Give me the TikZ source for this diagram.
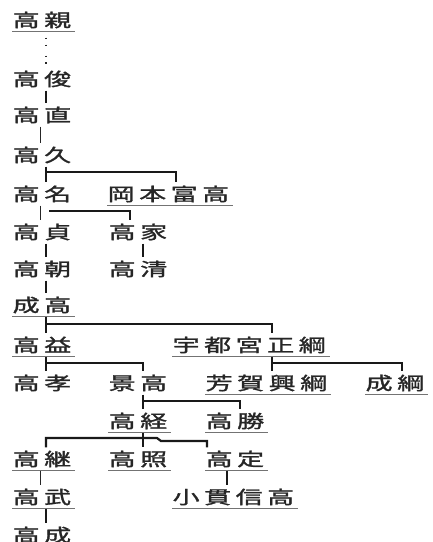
\documentclass[tikz,border=0pt]{standalone}
\usepackage{fontspec}
\usepackage{graphicx}
\newfontfamily\jp[FakeBold=1.2]{Noto Sans CJK JP}
\usetikzlibrary{calc}

% one fixed-width, widened cell per character
\newcommand\nm[1]{\nmloop#1\relax}
\def\nmloop#1{\ifx#1\relax\else\makebox[31.5pt][l]{\hspace{0.5pt}\scalebox{1.5}[1]{#1}}\expandafter\nmloop\fi}

\begin{document}
\begin{tikzpicture}[
  x=1pt, y=-1pt,
  person/.style={anchor=west, inner sep=0pt, text height=18.3pt, text depth=4.7pt,
                 font=\jp\fontsize{18}{20}\selectfont, text=black!85},
  uline/.style={draw=black!55, line width=0.9pt},
  uperson/.style={person, append after command={(\tikzlastnode.south west) edge[uline] (\tikzlastnode.south east)}},
  conn/.style={draw=black!90, line width=2.2pt},
  thinconn/.style={draw=black!85, line width=1pt},
  dots/.style={draw=black!85, line width=1.8pt,
               dash pattern=on 1.5pt off 5.5pt on 1.5pt off 9.5pt on 1.5pt off 5pt on 1.5pt off 20pt,
               dash phase=40pt}
]
\useasboundingbox (0,0) rectangle (433,542);

\node[uperson] (chika) at (12,20) {\nm{高親}};
\node[person] (toshi) at (12,79) {\nm{高俊}};
\node[person] (nao) at (12,115) {\nm{高直}};
\node[person] (hisa) at (12,155) {\nm{高久}};
\node[person] (na) at (12,194) {\nm{高名}};
\node[uperson] (okamoto) at (107,194) {\nm{岡本富高}};
\node[person] (sada) at (12,232) {\nm{高貞}};
\node[person] (ie) at (108,232) {\nm{高家}};
\node[person] (tomo) at (12,269) {\nm{高朝}};
\node[person] (kiyo) at (108,269) {\nm{高清}};
\node[uperson] (narit) at (12,305) {\nm{成高}};
\node[uperson] (masu) at (12,345) {\nm{高益}};
\node[uperson] (utsunomiya) at (172,345) {\nm{宇都宮正綱}};
\node[person] (taka) at (12,383) {\nm{高孝}};
\node[person] (kage) at (108,383) {\nm{景高}};
\node[uperson] (haga) at (205,383) {\nm{芳賀興綱}};
\node[uperson] (shige) at (365,383) {\nm{成綱}};
\node[uperson] (tsune) at (108,421) {\nm{高経}};
\node[uperson] (katsu) at (205,421) {\nm{高勝}};
\node[uperson] (tsugu) at (12,459) {\nm{高継}};
\node[uperson] (teru) at (108,459) {\nm{高照}};
\node[uperson] (sadat) at (205,459) {\nm{高定}};
\node[uperson] (take) at (12,497) {\nm{高武}};
\node[uperson] (onuki) at (172,497) {\nm{小貫信高}};
\node[person] (nari) at (12,535) {\nm{高成}};

\draw[dots] ([xshift=34]chika.south west) -- ([xshift=34]toshi.north west);
\draw[conn] ([xshift=34]toshi.south west) -- ([xshift=34]nao.north west);
\draw[thinconn] ([xshift=28]nao.south west) -- ([xshift=28]hisa.north west);
\draw[conn] ([xshift=34]hisa.south west) -- ([xshift=34]na.north west);
\draw[conn] ([xshift=34,yshift=-5.5]hisa.south west) -| ([xshift=69]okamoto.north west);
\draw[thinconn] ([xshift=28]na.south west) -- ([xshift=28]sada.north west);
\draw[conn] ([xshift=37,yshift=-5.5]na.south west) -| ([xshift=22]ie.north west);
\draw[conn] ([xshift=34]sada.south west) -- ([xshift=34]tomo.north west);
\draw[conn] ([xshift=35]ie.south west) -- ([xshift=35]kiyo.north west);
\draw[conn] ([xshift=34]tomo.south west) -- ([xshift=34]narit.north west);
\draw[conn] ([xshift=34]narit.south west) -- ([xshift=34]masu.north west);
\draw[conn] ([xshift=34,yshift=-7.5]narit.south west) -| ([xshift=100]utsunomiya.north west);
\draw[conn] ([xshift=34]masu.south west) -- ([xshift=34]taka.north west);
\draw[conn] ([xshift=34,yshift=-6.5]masu.south west) -| ([xshift=35]kage.north west);
\draw[conn] ([xshift=100]utsunomiya.south west) -- ([xshift=67]haga.north west);
\draw[conn] ([xshift=100,yshift=-6.5]utsunomiya.south west) -| ([xshift=37]shige.north west);
\draw[conn] ([xshift=35]kage.south west) -- ([xshift=35]tsune.north west);
\draw[conn] ([xshift=35,yshift=-6.5]kage.south west) -| ([xshift=35]katsu.north west);
\draw[conn] ([xshift=35]tsune.south west) -- ([xshift=35]teru.north west);
% left branch and the stepped line to 高定
\coordinate (hopa) at (157,438);
\coordinate (hopb) at (161,441);
\draw[conn] ([xshift=34]tsugu.north west) |- (hopa) -- (hopb) -| ([xshift=2]sadat.north west);
\draw[thinconn] ([xshift=28]tsugu.south west) -- ([xshift=28]take.north west);
\draw[conn] ([xshift=22]sadat.south west) -- ([xshift=55]onuki.north west);
\draw[conn] ([xshift=34]take.south west) -- ([xshift=34]nari.north west);
\end{tikzpicture}
\end{document}
